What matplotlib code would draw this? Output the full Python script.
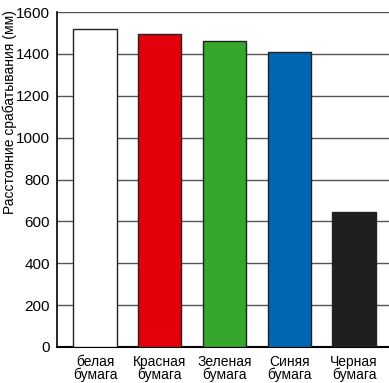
import matplotlib
matplotlib.use('Agg')
import matplotlib.pyplot as plt

categories = ['белая\nбумага', 'Красная\nбумага', 'Зеленая\nбумага', 'Синяя\nбумага', 'Черная\nбумага']
values = [1520, 1493, 1462, 1410, 645]
colors = ['#ffffff', '#e3000b', '#37a72b', '#0066b3', '#1e1e21']
yticks = [0, 200, 400, 600, 800, 1000, 1200, 1400, 1600]

plt.rcParams['font.family'] = ['Liberation Sans', 'DejaVu Sans']

fig = plt.figure(figsize=(3.89, 3.83), dpi=100)
ax = fig.add_axes([57 / 389, 36 / 383, 1 - 57 / 389, 335 / 383])

ax.set_axisbelow(True)
ax.yaxis.grid(True, color='#555555', lw=1.0)
ax.bar(range(len(values)), values, width=0.67, color=colors, edgecolor='#222222', lw=1.0, zorder=3)

ax.set_ylim(0, 1600)
ax.set_xlim(-0.587, 4.54)
ax.set_yticks(yticks)
ax.set_xticks(range(len(values)))
ax.set_xticklabels(categories, fontsize=10, linespacing=0.85)
ax.tick_params(axis='y', length=0, pad=5, labelsize=11)
ax.tick_params(axis='x', length=0, pad=6)
for s in ('top', 'right'):
    ax.spines[s].set_visible(False)
ax.spines['left'].set_lw(1.2)
ax.spines['bottom'].set_lw(1.5)

fig.text(10 / 389, 1 - 112 / 383, 'Расстояние срабатывания (мм)', rotation=90,
         ha='center', va='center', fontsize=10)

fig.savefig('out.png', dpi=100)
